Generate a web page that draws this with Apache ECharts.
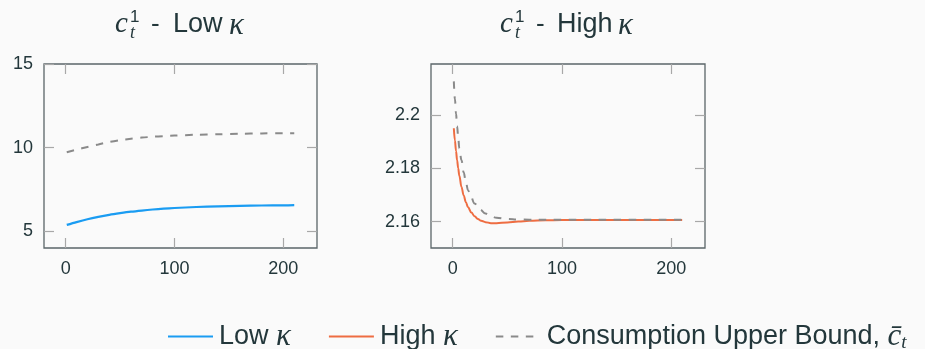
<!DOCTYPE html>
<html><head><meta charset="utf-8">
<script src="https://cdn.jsdelivr.net/npm/echarts@6/dist/echarts.min.js"></script>
<style>html,body{margin:0;padding:0;background:#fafafa}#c{width:925px;height:349px}</style>
</head><body><div id="c"></div>
<script>
// ---- data ----
const lowT      = [1, 10, 20, 30, 40, 50, 60, 70, 80, 90, 100, 120, 140, 160, 180, 200, 210];
const lowKappa  = [5.38, 5.55, 5.72, 5.86, 5.98, 6.08, 6.17, 6.24, 6.30, 6.35, 6.39, 6.45, 6.49, 6.52, 6.54, 6.55, 6.56];
const lowBound  = [9.72, 9.88, 10.04, 10.19, 10.34, 10.45, 10.53, 10.60, 10.65, 10.69, 10.72, 10.77, 10.80, 10.83, 10.85, 10.86, 10.86];

const highT     = [1, 2, 3, 4, 5, 6, 8, 10, 12, 14, 17, 20, 23, 26, 30, 35, 40, 50, 60, 70, 85, 100, 130, 170, 210];
const highKappa = [2.1950, 2.1904, 2.1865, 2.1830, 2.1800, 2.1773, 2.1730, 2.1698, 2.1673, 2.1654, 2.1634, 2.1620, 2.1610, 2.1603, 2.1598, 2.1594, 2.1594, 2.1597, 2.1600, 2.1603, 2.1605, 2.1606, 2.1606, 2.1606, 2.1606];
const boundT    = [1, 2, 3, 4, 5, 6, 8, 10, 12, 14, 16, 20, 25, 30, 35, 40, 50, 60, 70, 100, 150, 210];
const highBound = [2.2126, 2.2060, 2.2005, 2.1958, 2.1915, 2.1875, 2.1830, 2.1785, 2.1748, 2.1718, 2.1700, 2.1668, 2.1645, 2.1630, 2.1620, 2.1614, 2.1610, 2.1608, 2.1607, 2.1607, 2.1607, 2.1607];

const xTicks      = [0, 100, 200];
const yTicksLow   = [5, 10, 15];
const yTicksHigh  = [2.16, 2.18, 2.2];

const names = ['Low κ', 'High κ', 'Consumption Upper Bound'];

// ---- styling ----
const TXT = '#23373b';
const FRAME = '#5b6669';
const TICK = '#a8a8a8';
const BLUE = '#1a9cf2';
const ORANGE = '#ee6d42';
const GRAY = '#8a8a8a';
const SANS = '"Liberation Sans", Arial, sans-serif';
const SERIF = '"Liberation Serif", serif';
const KFONT = '"Liberation Serif", serif';

const pairs = (xs, ys) => xs.map((x, i) => [x, ys[i]]);

function xAx(gi, pos) {
  const bottom = pos === 'bottom';
  return {
    type: 'value', gridIndex: gi, position: pos, min: -19.9, max: 230.9,
    axisLine: {show: false, onZero: false},
    axisTick: {show: true, inside: true, length: 10, customValues: xTicks, lineStyle: {color: TICK, width: 1.2}},
    axisLabel: {show: bottom, customValues: xTicks, color: TXT, fontFamily: SANS, fontSize: 18, margin: 12},
    splitLine: {show: false}
  };
}
function yAx(gi, pos, min, max, ticks) {
  const left = pos === 'left';
  return {
    type: 'value', gridIndex: gi, position: pos, min: min, max: max,
    axisLine: {show: false, onZero: false},
    axisTick: {show: true, inside: true, length: 10, customValues: ticks, lineStyle: {color: TICK, width: 1.2}},
    axisLabel: {show: left, customValues: ticks, color: TXT, fontFamily: SANS, fontSize: 18, margin: 11,
      formatter: v => String(+v.toFixed(4))},
    splitLine: {show: false}
  };
}

function titleParts(x0, word, wordX, kX) {
  const s = {fill: TXT};
  return [
    {type: 'text', x: x0, y: 24, style: Object.assign({text: 'c', font: 'italic 29px ' + SERIF, verticalAlign: 'middle'}, s)},
    {type: 'text', x: x0 + 15, y: 17, style: Object.assign({text: '1', font: '17px ' + SANS, verticalAlign: 'middle'}, s)},
    {type: 'text', x: x0 + 15, y: 33, style: Object.assign({text: 't', font: 'italic 18px ' + SERIF, verticalAlign: 'middle'}, s)},
    {type: 'text', x: x0 + 36, y: 25, style: Object.assign({text: '-', font: '26px ' + SANS, verticalAlign: 'middle'}, s)},
    {type: 'text', x: wordX, y: 25, style: Object.assign({text: word, font: '27px ' + SANS, verticalAlign: 'middle'}, s)},
    {type: 'text', x: kX, y: 26, style: Object.assign({text: 'κ', font: 'italic 31px ' + KFONT, verticalAlign: 'middle'}, s)}
  ];
}

const chart = echarts.init(document.getElementById('c'), null, {renderer: 'canvas'});
chart.setOption({
  backgroundColor: '#fafafa',
  animation: false,
  graphic: titleParts(115, 'Low', 173, 229).concat(titleParts(500, 'High', 557, 618)),
  grid: [
    {left: 44, top: 64, width: 273, height: 184, show: true, borderColor: FRAME, borderWidth: 1.3, backgroundColor: 'transparent', outerBoundsMode: 'none'},
    {left: 431, top: 64, width: 274, height: 184, show: true, borderColor: FRAME, borderWidth: 1.3, backgroundColor: 'transparent', outerBoundsMode: 'none'}
  ],
  xAxis: [xAx(0, 'bottom'), xAx(0, 'top'), xAx(1, 'bottom'), xAx(1, 'top')],
  yAxis: [yAx(0, 'left', 4, 15, yTicksLow), yAx(0, 'right', 4, 15, yTicksLow),
          yAx(1, 'left', 2.1501, 2.2191, yTicksHigh), yAx(1, 'right', 2.1501, 2.2191, yTicksHigh)],
  legend: {
    data: names, left: 162, top: 316, itemWidth: 45, itemHeight: 14, itemGap: 37,
    itemStyle: {opacity: 0},
    textStyle: {color: TXT, fontFamily: SANS, fontSize: 27, padding: [0, 0, 0, 1],
      rich: {
        k: {fontFamily: KFONT, fontStyle: 'italic', fontSize: 31, color: TXT},
        c: {fontFamily: SERIF, fontStyle: 'italic', fontSize: 31, color: TXT},
        t: {fontFamily: SERIF, fontStyle: 'italic', fontSize: 19, color: TXT, verticalAlign: 'bottom', padding: [12, 0, 0, 0]}
      }},
    formatter: function (n) {
      if (n === names[0]) return 'Low {k|κ}';
      if (n === names[1]) return 'High {k|κ}';
      return 'Consumption Upper Bound, {c|c\u0304}{t|t}';
    }
  },
  series: [
    {name: names[0], type: 'line', xAxisIndex: 0, yAxisIndex: 0, data: pairs(lowT, lowKappa), smooth: 0.3,
     symbol: 'none', lineStyle: {color: BLUE, width: 2.2}, itemStyle: {color: BLUE}, z: 3},
    {name: names[2], type: 'line', xAxisIndex: 0, yAxisIndex: 0, data: pairs(lowT, lowBound), smooth: 0.3,
     symbol: 'none', lineStyle: {color: GRAY, width: 2, type: [7.5, 7.5]}, itemStyle: {color: GRAY}, z: 4},
    {name: names[1], type: 'line', xAxisIndex: 2, yAxisIndex: 2, data: pairs(highT, highKappa), smooth: 0.4, smoothMonotone: 'x',
     symbol: 'none', lineStyle: {color: ORANGE, width: 2}, itemStyle: {color: ORANGE}, z: 3},
    {name: names[2], type: 'line', xAxisIndex: 2, yAxisIndex: 2, data: pairs(boundT, highBound), smooth: 0.4, smoothMonotone: 'x',
     symbol: 'none', lineStyle: {color: GRAY, width: 2, type: [7.5, 7.5]}, itemStyle: {color: GRAY}, z: 4}
  ]
});
</script></body></html>
